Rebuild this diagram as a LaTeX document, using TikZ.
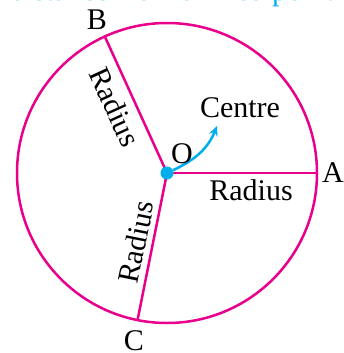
\documentclass[tikz,border=0pt]{standalone}
\usepackage{fontspec}
\setmainfont{Liberation Serif}
\usetikzlibrary{arrows.meta,calc}
\definecolor{mag}{RGB}{232,0,140}
\definecolor{cyn}{RGB}{0,174,239}
\begin{document}
\begin{tikzpicture}[x=1pt,y=-1pt,
  magline/.style={draw=mag,line width=2.5pt},
  cynline/.style={draw=cyn,line width=2.5pt},
  lbl/.style={inner sep=0pt,font=\fontsize{30}{36}\selectfont},
  dotnode/.style={circle,fill=cyn,inner sep=0pt,minimum size=13pt}]
\useasboundingbox (0,0) rectangle (344,353);
\clip (0,0) rectangle (344,353);
% clipped heading text
\node[lbl,text=cyn,anchor=base east] (head) at (334,1) {distance from a fixed point};
% geometry
\coordinate (O) at (167,173);
\coordinate (A) at ($(O)+(150,0)$);
\coordinate (B) at ($(O)+(-62.2,-136.5)$);
\coordinate (C) at ($(O)+(-29.5,147.1)$);
\draw[magline] (O) circle[radius=150pt];
\draw[magline] (O) -- (A);
\draw[magline] (O) -- (B);
\draw[magline] (O) -- (C);
\node[dotnode] (Od) at (O) {};
% arrow to Centre
\coordinate (ctip) at (217,126);
\draw[cynline,-{Stealth[length=10pt,width=9pt,inset=3.5pt]}] (Od) to[out=25,in=-112] (ctip);
% labels
\node[lbl] (lA) at (333,173) {A};
\node[lbl] (lB) at (97,20) {B};
\node[lbl] (lC) at (134,341) {C};
\node[lbl] (lO) at (182,154) {O};
\node[lbl] (lCentre) at (240,108) {Centre};
\node[lbl] (r1) at (251,190) {Radius};
\node[lbl,rotate=-65.5] (r2) at (115,107) {Radius};
\node[lbl,rotate=78.7] (r3) at (136,242) {Radius};
\end{tikzpicture}
\end{document}
